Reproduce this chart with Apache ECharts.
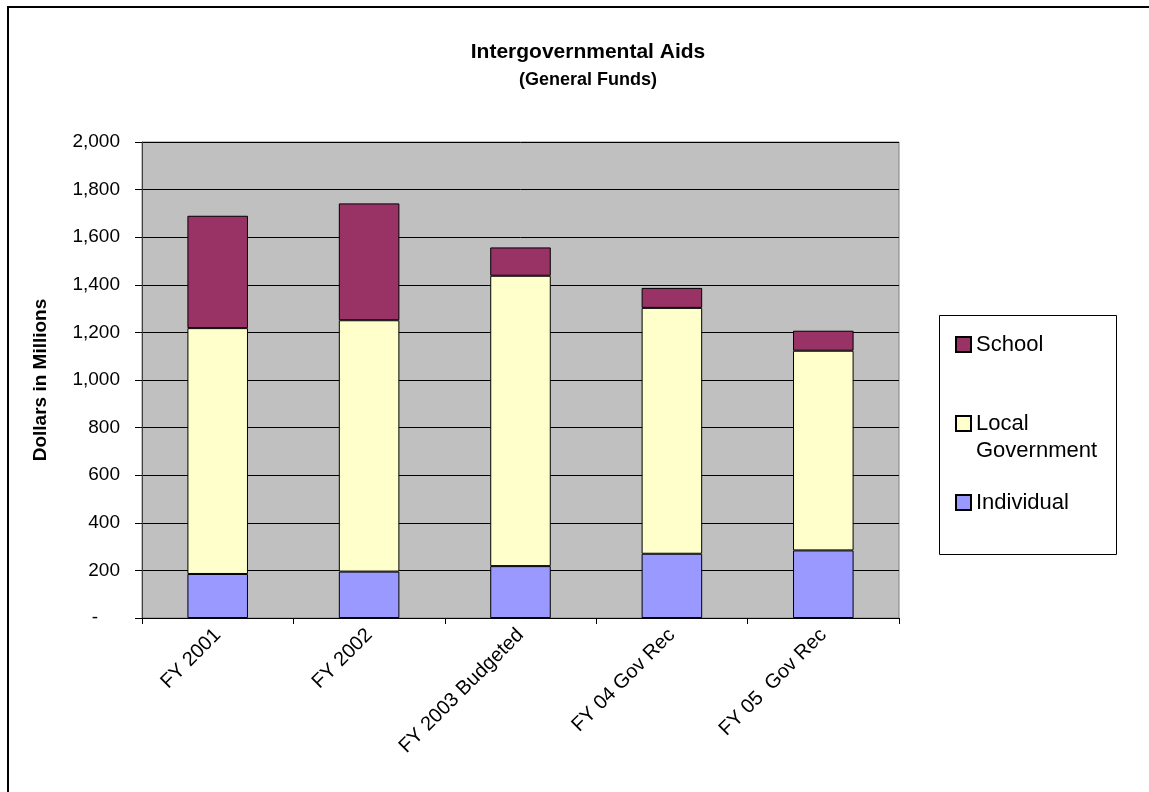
<!DOCTYPE html>
<html>
<head>
    <meta charset="utf-8">
    <title>Intergovernmental Aids</title>
    <script src="https://cdn.jsdelivr.net/npm/echarts@6/dist/echarts.min.js"></script>
</head>
<body style="margin:0;background:#fff;">
<div id="main" style="width:1149px;height:792px;"></div>
<script type="text/javascript">
    // data (Dollars in Millions)
    var categories = ['FY 2001', 'FY 2002', 'FY 2003 Budgeted', 'FY 04 Gov Rec', 'FY 05  Gov Rec'];
    var individual = [185, 195, 218, 270, 284];
    var localGov = [1033, 1056, 1220, 1033, 839];
    var school = [472, 491, 119, 84, 84];
    var yTicks = [0, 2000, 200]; // min, max, step

    var font = 'Liberation Sans, Arial, sans-serif';
    var myChart = echarts.init(document.getElementById('main'));

    function barSeries(name, data, color) {
        return {
            name: name,
            type: 'bar',
            stack: 'total',
            data: data,
            barCategoryGap: '60%',
            itemStyle: { color: color, borderColor: '#000', borderWidth: 1 },
            emphasis: { disabled: true }
        };
    }

    // one legend per entry so each can sit where Excel put it
    function legendItem(name, top) {
        return {
            data: [name],
            left: 955,
            top: top,
            padding: 0,
            icon: 'rect',
            itemWidth: 15,
            itemHeight: 15,
            formatter: function (n) {
                // blank first line keeps the marker level with "Local"
                return n === 'Local Government' ? '{s| }\nLocal\nGovernment' : n;
            },
            textStyle: {
                color: '#000', fontSize: 22, fontFamily: font, lineHeight: 27,
                rich: { s: { fontSize: 22, lineHeight: 27 } }
            },
            selectedMode: false
        };
    }

    var option = {
        backgroundColor: '#fff',
        animation: false,
        title: {
            text: 'Intergovernmental Aids',
            subtext: '(General Funds)',
            left: 583,
            top: 37,
            textAlign: 'center',
            itemGap: 8,
            textStyle: { fontFamily: font, fontWeight: 'bold', fontSize: 21, color: '#000' },
            subtextStyle: { fontFamily: font, fontWeight: 'bold', fontSize: 18, color: '#000' }
        },
        graphic: [{
            type: 'rect',
            silent: true,
            shape: { x: 8, y: 7, width: 1300, height: 900 },
            style: { fill: null, stroke: '#000', lineWidth: 2 }
        }, {
            type: 'rect',
            silent: true,
            z: -1,
            shape: { x: 939.5, y: 315.5, width: 177, height: 239 },
            style: { fill: '#fff', stroke: '#000', lineWidth: 1 }
        }],
        legend: [
            legendItem('School', 331),
            legendItem('Local Government', 383),
            legendItem('Individual', 489)
        ],
        grid: {
            left: 142,
            right: 250,
            top: 142,
            bottom: 174,
            show: true,
            backgroundColor: '#C0C0C0',
            borderColor: '#808080',
            borderWidth: 1
        },
        xAxis: {
            type: 'category',
            data: categories,
            axisLine: { lineStyle: { color: '#000', width: 1 } },
            axisTick: { show: true, length: 6, lineStyle: { color: '#000' } },
            axisLabel: {
                rotate: 45,
                margin: 14,
                color: '#000',
                fontSize: 20,
                fontFamily: font
            }
        },
        yAxis: {
            type: 'value',
            min: yTicks[0],
            max: yTicks[1],
            interval: yTicks[2],
            name: 'Dollars in Millions',
            nameLocation: 'middle',
            nameGap: 92,
            nameTextStyle: { fontFamily: font, fontWeight: 'bold', fontSize: 19, color: '#000' },
            axisLine: { show: true, lineStyle: { color: '#404040', width: 1 } },
            axisTick: { show: true, length: 7, lineStyle: { color: '#000' } },
            splitLine: { lineStyle: { color: '#000', width: 1 } },
            axisLabel: {
                margin: 22,
                color: '#000',
                fontSize: 19,
                fontFamily: font,
                formatter: function (v) {
                    if (v === 0) return '{z|-}';
                    return v.toLocaleString('en-US');
                },
                rich: { z: { fontSize: 19, fontFamily: font, color: '#000', padding: [0, 22, 0, 0] } }
            }
        },
        series: [
            barSeries('Individual', individual, '#9999FF'),
            barSeries('Local Government', localGov, '#FFFFCC'),
            barSeries('School', school, '#993366')
        ]
    };

    myChart.setOption(option);
</script>
</body>
</html>
